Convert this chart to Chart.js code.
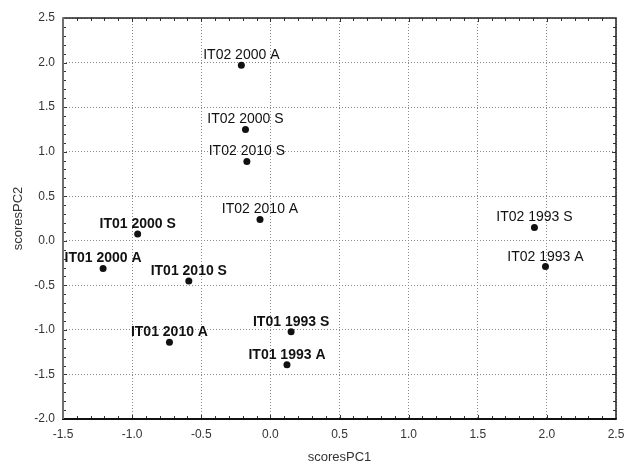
<!DOCTYPE html>
<html>
<head>
<meta charset="utf-8">
<script src="https://cdn.jsdelivr.net/npm/chart.js@4/dist/chart.umd.min.js"></script>
<style>
  html, body { margin: 0; padding: 0; background: #ffffff; }
  #wrap { width: 627px; height: 464px; }
</style>
</head>
<body>
<div id="wrap"><canvas id="chart" width="627" height="464"></canvas></div>
<script>
// sample scores on the first two principal components
var sampleLabels = [
  "IT02 2000 A", "IT02 2000 S", "IT02 2010 S", "IT02 2010 A",
  "IT01 2000 S", "IT01 2000 A", "IT01 2010 S", "IT01 2010 A",
  "IT01 1993 S", "IT01 1993 A", "IT02 1993 S", "IT02 1993 A"
];
var scoresPC1 = [-0.21, -0.18, -0.17, -0.075, -0.96, -1.21, -0.59, -0.73, 0.15, 0.12, 1.91, 1.99];
var scoresPC2 = [1.97, 1.25, 0.89, 0.24, 0.075, -0.31, -0.45, -1.14, -1.02, -1.39, 0.15, -0.29];

// axis ranges
var xRange = [-1.5, 2.5];
var yRange = [-2.0, 2.5];
var majorStep = 0.5;
var minorStep = 0.1;

var FONT = "'Liberation Sans', Arial, Helvetica, sans-serif";

var points = scoresPC1.map(function (x, i) {
  return { x: x, y: scoresPC2[i] };
});

function fixAxis(size) {
  return function (scale) {
    if (scale.isHorizontal()) {
      scale.height = size;
    } else {
      scale.width = size;
    }
    scale.paddingLeft = 0;
    scale.paddingRight = 0;
    scale.paddingTop = 0;
    scale.paddingBottom = 0;
  };
}

var framePlugin = {
  id: "frame",
  afterDatasetsDraw: function (chart) {
    var ctx = chart.ctx;
    var a = chart.chartArea;
    var xs = chart.scales.x;
    var ys = chart.scales.y;
    ctx.save();

    // minor and major tick marks, pointing inside on every side
    ctx.strokeStyle = "#333333";
    ctx.lineWidth = 1;
    ctx.beginPath();
    var n = Math.round((xRange[1] - xRange[0]) / minorStep);
    for (var i = 1; i < n; i++) {
      var px = Math.round(xs.getPixelForValue(xRange[0] + i * minorStep)) + 0.5;
      var len = i % 5 === 0 ? 4 : 3;
      ctx.moveTo(px, a.bottom);
      ctx.lineTo(px, a.bottom - len);
      ctx.moveTo(px, a.top);
      ctx.lineTo(px, a.top + len);
    }
    var m = Math.round((yRange[1] - yRange[0]) / minorStep);
    for (var j = 1; j < m; j++) {
      var py = Math.round(ys.getPixelForValue(yRange[0] + j * minorStep)) + 0.5;
      var ylen = j % 5 === 0 ? 4 : 3;
      ctx.moveTo(a.left, py);
      ctx.lineTo(a.left + ylen, py);
      ctx.moveTo(a.right, py);
      ctx.lineTo(a.right - ylen, py);
    }
    ctx.stroke();

    // frame
    ctx.lineWidth = 1.5;
    ctx.strokeStyle = "#222222";
    ctx.beginPath();
    ctx.moveTo(a.left, a.top);
    ctx.lineTo(a.right, a.top);
    ctx.lineTo(a.right, a.bottom);
    ctx.stroke();

    ctx.lineWidth = 2;
    ctx.strokeStyle = "#111111";
    ctx.beginPath();
    ctx.moveTo(a.left - 1, a.bottom);
    ctx.lineTo(a.right + 0.75, a.bottom);
    ctx.stroke();

    ctx.strokeStyle = "#707070";
    ctx.beginPath();
    ctx.moveTo(a.left, a.top - 0.75);
    ctx.lineTo(a.left, a.bottom);
    ctx.stroke();

    // point labels
    var meta = chart.getDatasetMeta(0);
    ctx.fillStyle = "#111111";
    ctx.textAlign = "center";
    ctx.textBaseline = "alphabetic";
    meta.data.forEach(function (el, k) {
      var label = sampleLabels[k];
      var bold = label.indexOf("IT01") === 0;
      ctx.font = (bold ? "bold " : "") + "14px " + FONT;
      ctx.fillText(label, el.x, el.y - 6);
    });

    ctx.restore();
  }
};

new Chart(document.getElementById("chart"), {
  type: "scatter",
  data: {
    datasets: [
      {
        data: points,
        pointRadius: 3.5,
        pointHoverRadius: 3.5,
        pointBackgroundColor: "#111111",
        pointBorderColor: "#111111",
        pointBorderWidth: 0
      }
    ]
  },
  options: {
    responsive: false,
    animation: false,
    events: [],
    layout: { padding: { top: 18, right: 11, bottom: 0, left: 0 } },
    plugins: {
      legend: { display: false },
      tooltip: { enabled: false }
    },
    scales: {
      x: {
        type: "linear",
        min: xRange[0],
        max: xRange[1],
        afterFit: fixAxis(45),
        grid: { color: "#8a8a8a", lineWidth: 1, drawTicks: false },
        border: { display: false, dash: [1, 2] },
        ticks: {
          stepSize: majorStep,
          padding: 8,
          color: "#333333",
          font: { family: FONT, size: 12 },
          callback: function (v) { return Number(v).toFixed(1); }
        },
        title: {
          display: true,
          text: "scoresPC1",
          color: "#333333",
          font: { family: FONT, size: 13, lineHeight: 1 },
          padding: { top: 0, bottom: 0 }
        }
      },
      y: {
        type: "linear",
        min: yRange[0],
        max: yRange[1],
        afterFit: fixAxis(63),
        grid: { color: "#8a8a8a", lineWidth: 1, drawTicks: false },
        border: { display: false, dash: [1, 2] },
        ticks: {
          stepSize: majorStep,
          padding: 8,
          color: "#333333",
          font: { family: FONT, size: 12 },
          callback: function (v) { return Number(v).toFixed(1); }
        },
        title: {
          display: true,
          text: "scoresPC2",
          color: "#333333",
          font: { family: FONT, size: 13, lineHeight: 1 },
          padding: { top: 12, bottom: 0 }
        }
      }
    }
  },
  plugins: [framePlugin]
});
</script>
</body>
</html>
